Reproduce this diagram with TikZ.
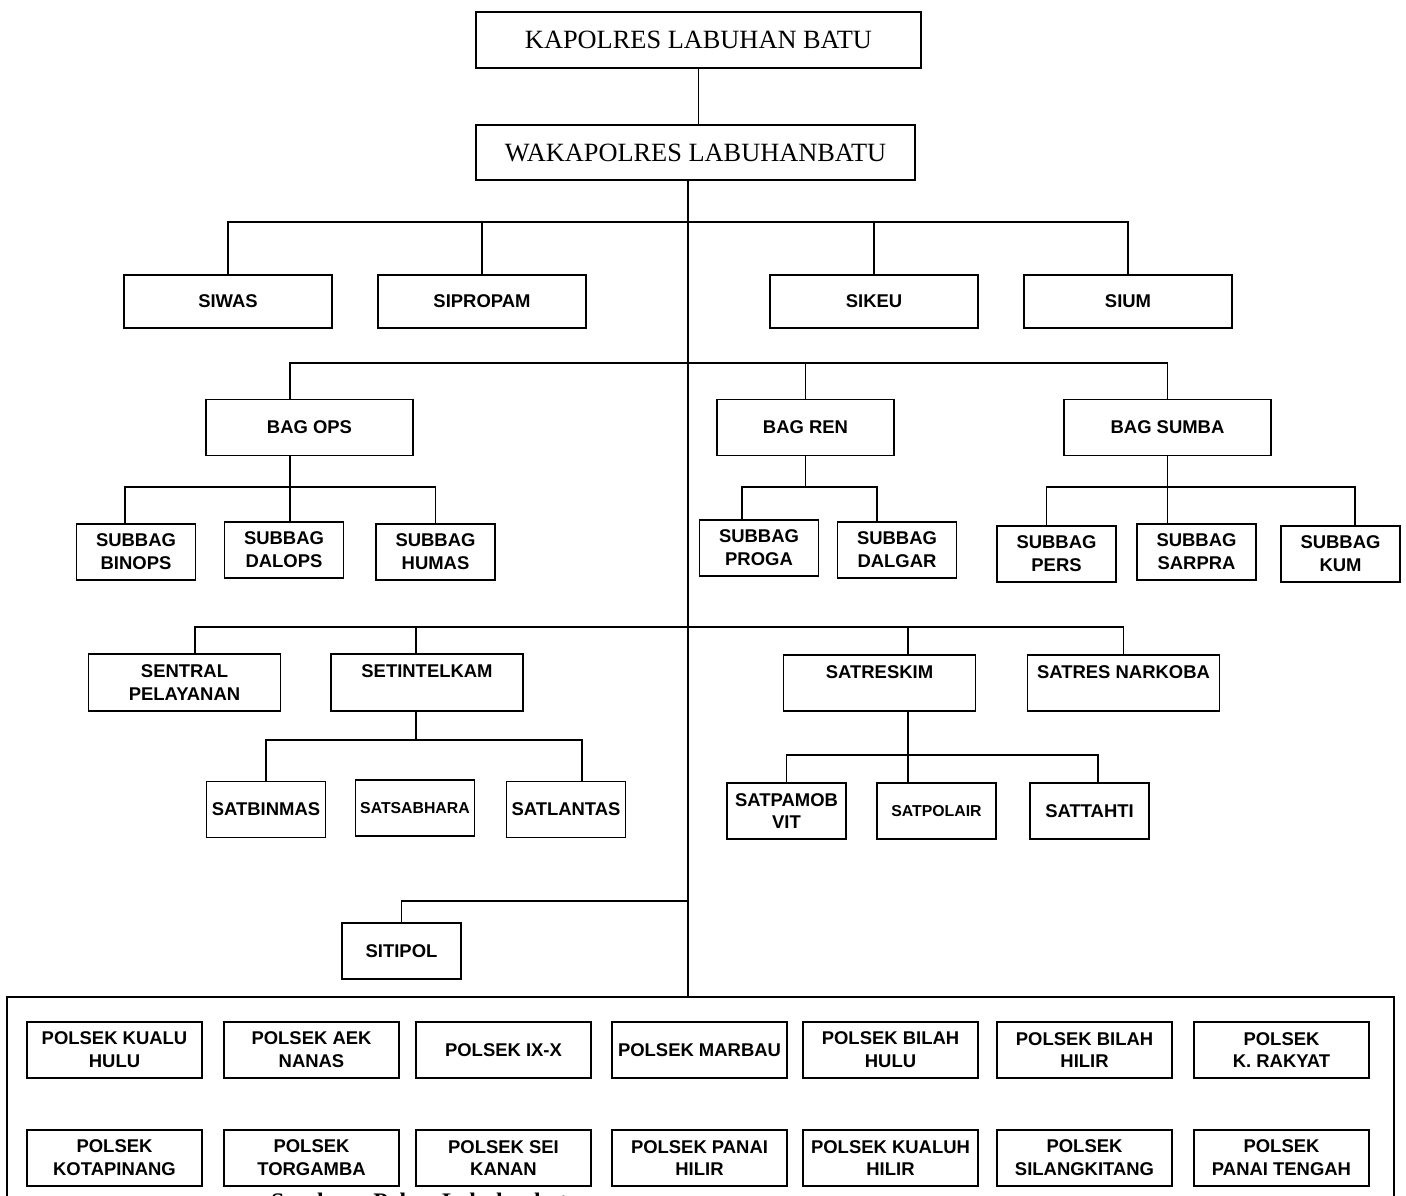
\documentclass[tikz,border=0pt]{standalone}
\usepackage{fontspec}
\setmainfont{Liberation Serif}
\newfontfamily\unitfamily{Liberation Sans}
\newcommand{\unitfont}{\unitfamily\bfseries\fontsize{10.5}{13}\selectfont}
\newcommand{\smallunitfont}{\unitfamily\bfseries\fontsize{9}{11}\selectfont}
\newcommand{\chieffont}{\fontsize{15}{18}\selectfont}
\tikzstyle{unitbox} = [rectangle, draw=black, line width=1pt, fill=white, align=center, inner sep=1pt, font=\unitfont]
\tikzstyle{chiefbox} = [unitbox, minimum width=8.9cm, minimum height=1.12cm, font=\chieffont]
\tikzstyle{sibox} = [unitbox, minimum width=4.16cm, minimum height=1.06cm]
\tikzstyle{bagbox} = [unitbox, minimum height=1.12cm]
\tikzstyle{subbox} = [unitbox, minimum width=2.38cm, minimum height=1.12cm]
\tikzstyle{satbox} = [unitbox, minimum width=3.84cm, minimum height=1.13cm]
\tikzstyle{polsekbox} = [unitbox, minimum width=3.5cm, minimum height=1.12cm]
\tikzstyle{orgline} = [line width=1pt]

\begin{document}
\begin{tikzpicture}[x=0.02cm, y=-0.02cm]
   \useasboundingbox (0,0) rectangle (1406,1196);
   \clip (0,0) rectangle (1406,1196);

   % pimpinan
   \node (kapolres) [chiefbox] at (698.5,40) {KAPOLRES LABUHAN BATU};
   \node (waka) [chiefbox, minimum width=8.78cm, minimum height=1.1cm] at (695.5,152.5) {WAKAPOLRES LABUHANBATU};

   % jalur garis
   \coordinate (trunk) at ([xshift=-0.15cm]waka.south);
   \coordinate (bus-si) at (688,222);
   \coordinate (bus-bag) at (688,363);
   \coordinate (bus-sub) at (688,487);
   \coordinate (bus-sat) at (688,627);
   \coordinate (bus-intel) at (416,740);
   \coordinate (bus-reskim) at (908,755);
   \coordinate (bus-ipol) at (688,901);

   \node (siwas) [sibox] at (228,301.5) {SIWAS};
   \node (sipropam) [sibox] at (482,301.5) {SIPROPAM};
   \node (sikeu) [sibox] at (874,301.5) {SIKEU};
   \node (sium) [sibox] at (1128,301.5) {SIUM};

   \node (bagops) [bagbox, minimum width=4.14cm] at (309.5,427.5) {BAG OPS};
   \node (bagren) [bagbox, minimum width=3.54cm] at (805.5,427.5) {BAG REN};
   \node (bagsumba) [bagbox, minimum width=4.14cm] at (1167.5,427.5) {BAG SUMBA};

   \node (binops) [subbox] at (136,552) {SUBBAG\\BINOPS};
   \node (dalops) [subbox] at (284,550) {SUBBAG\\DALOPS};
   \node (humas) [subbox] at (435.5,552) {SUBBAG\\HUMAS};
   \node (proga) [subbox] at (759,548) {SUBBAG\\PROGA};
   \node (dalgar) [subbox] at (897,550) {SUBBAG\\DALGAR};
   \node (pers) [subbox] at (1056.5,554) {SUBBAG\\PERS};
   \node (sarpra) [subbox] at (1196.5,552) {SUBBAG\\SARPRA};
   \node (kum) [subbox] at (1340.5,554) {SUBBAG\\KUM};

   \node (sentral) [satbox] at (184.5,682.5) {SENTRAL\\PELAYANAN};
   \node (intelkam) [satbox] at (427,682.5) {SETINTELKAM\\~};
   \node (reskim) [satbox] at (879.5,683) {SATRESKIM\\~};
   \node (narkoba) [satbox] at (1123.5,683) {SATRES NARKOBA\\~};

   \node (binmas) [subbox] at (266,809.5) {SATBINMAS};
   \node (sabhara) [subbox, font=\smallunitfont] at (415,808) {SATSABHARA};
   \node (lantas) [subbox] at (566,809.5) {SATLANTAS};
   \node (pamobvit) [subbox] at (786.5,811) {SATPAMOB\\VIT};
   \node (polair) [subbox, font=\smallunitfont] at (936.5,811) {SATPOLAIR};
   \node (tahti) [subbox] at (1089.5,811) {SATTAHTI};

   \node (sitipol) [subbox] at (401.5,951) {SITIPOL};

   % polsek
   \node (wilayah) [draw, line width=1pt, minimum width=27.74cm, minimum height=4.36cm] at (700.5,1106) {};
   \foreach \x/\i/\txt in {114.5/1/{POLSEK KUALU\\HULU}, 311.5/2/{POLSEK AEK\\NANAS}, 503.5/3/{POLSEK IX-X},
      699.5/4/{POLSEK MARBAU}, 890.5/5/{POLSEK BILAH\\HULU}, 1084.5/6/{POLSEK BILAH\\HILIR}, 1281.5/7/{POLSEK\\K. RAKYAT}}
      \node (polsek-a\i) [polsekbox] at (\x,1050) {\txt};
   \foreach \x/\i/\txt in {114.5/1/{POLSEK\\KOTAPINANG}, 311.5/2/{POLSEK\\TORGAMBA}, 503.5/3/{POLSEK SEI\\KANAN},
      699.5/4/{POLSEK PANAI\\HILIR}, 890.5/5/{POLSEK KUALUH\\HILIR}, 1084.5/6/{POLSEK\\SILANGKITANG}, 1281.5/7/{POLSEK\\PANAI TENGAH}}
      \node (polsek-b\i) [polsekbox] at (\x,1158) {\txt};

   \node (sumber) [anchor=base west, font=\bfseries\fontsize{13.5}{16}\selectfont] at (265,1209) {Sumber : Polres Labuhanbatu};

   % garis komando
   \draw [orgline] (kapolres.south) -- (kapolres.south |- waka.north);
   \draw [orgline] (trunk) -- (trunk |- wilayah.north);

   \draw [orgline] (siwas.north) |- (sium.north |- bus-si) -- (sium.north);
   \draw [orgline] (sipropam.north |- bus-si) -- (sipropam.north);
   \draw [orgline] (sikeu.north |- bus-si) -- (sikeu.north);

   \draw [orgline] ([xshift=-0.39cm]bagops.north) |- (bagsumba.north |- bus-bag) -- (bagsumba.north);
   \draw [orgline] (bagren.north |- bus-bag) -- (bagren.north);

   \draw [orgline] ([xshift=-0.39cm]bagops.south) -- ([xshift=-0.39cm]bagops.south |- dalops.north);
   \draw [orgline] ([xshift=-0.22cm]binops.north) |- (humas.north |- bus-sub) -- (humas.north);
   \draw [orgline] (bagren.south) -- (bagren.south |- bus-sub);
   \draw [orgline] ([xshift=-0.34cm]proga.north) |- ([xshift=-0.4cm]dalgar.north |- bus-sub) -- ([xshift=-0.4cm]dalgar.north);
   \draw [orgline] (bagsumba.south) -- (bagsumba.south |- sarpra.north);
   \draw [orgline] ([xshift=-0.2cm]pers.north) |- ([xshift=0.29cm]kum.north |- bus-sub) -- ([xshift=0.29cm]kum.north);

   \draw [orgline] ([xshift=0.21cm]sentral.north) |- (narkoba.north |- bus-sat) -- (narkoba.north);
   \draw [orgline] ([xshift=-0.22cm]intelkam.north |- bus-sat) -- ([xshift=-0.22cm]intelkam.north);
   \draw [orgline] ([xshift=0.57cm]reskim.north |- bus-sat) -- ([xshift=0.57cm]reskim.north);

   \draw [orgline] ([xshift=-0.22cm]intelkam.south) -- ([xshift=-0.22cm]intelkam.south |- bus-intel);
   \draw [orgline] (binmas.north) |- ([xshift=0.32cm]lantas.north |- bus-intel) -- ([xshift=0.32cm]lantas.north);
   \draw [orgline] ([xshift=0.57cm]reskim.south) -- ([xshift=0.57cm]reskim.south |- polair.north);
   \draw [orgline] (pamobvit.north) |- ([xshift=0.17cm]tahti.north |- bus-reskim) -- ([xshift=0.17cm]tahti.north);

   \draw [orgline] (sitipol.north) |- (trunk |- bus-ipol);
\end{tikzpicture}
\end{document}
